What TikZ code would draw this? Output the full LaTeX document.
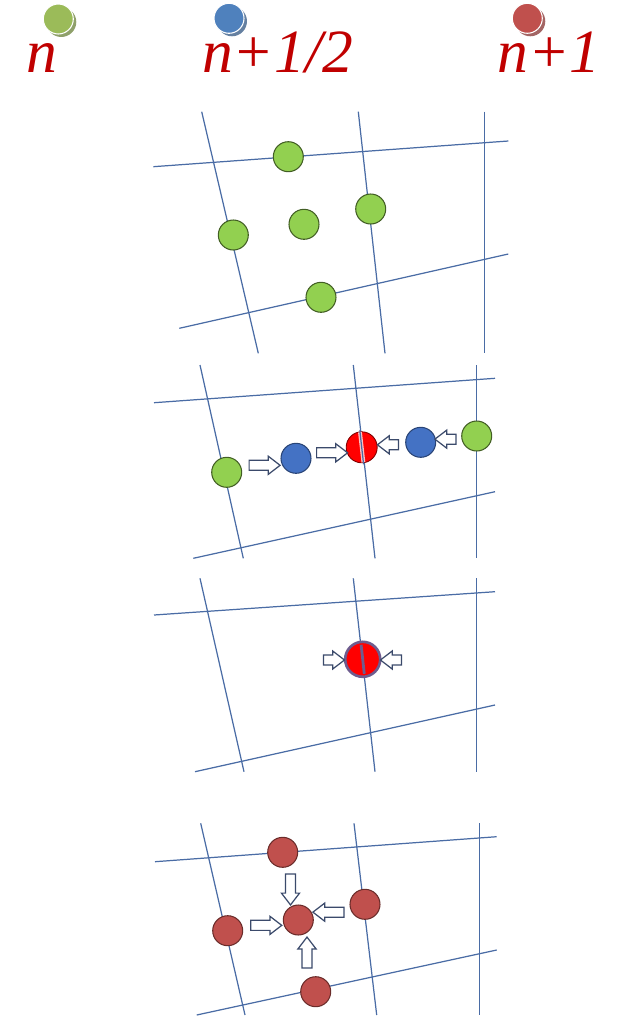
\documentclass[tikz,border=0pt]{standalone}
\usepackage{fontspec}
\newfontfamily\hdrfont{Liberation Serif}
\usetikzlibrary{calc, positioning, shapes.arrows, shadows}

\begin{document}
\begin{tikzpicture}[x=0.02cm, y=-0.02cm]
\definecolor{gline}{RGB}{74,108,165}
\definecolor{hgreen}{RGB}{155,187,89}
\definecolor{hblue}{RGB}{79,129,189}
\definecolor{hred}{RGB}{192,80,77}
\definecolor{lbl}{RGB}{192,0,0}
\definecolor{cgreen}{RGB}{146,208,80}
\definecolor{cblue}{RGB}{68,114,196}
\definecolor{arrline}{RGB}{59,74,107}
\definecolor{mrgline}{RGB}{110,92,142}
\tikzset{
  grid/.style={gline, line width=0.7pt},
  hdrdot/.style={circle, minimum size=0.6cm, inner sep=0pt, fill=#1, draw=white, line width=0.6pt,
    drop shadow={shadow xshift=1.7pt, shadow yshift=-1.7pt, fill=#1!55!gray, opacity=1}},
  hdrlbl/.style={lbl, inner sep=0pt, anchor=base, font=\hdrfont\itshape\fontsize{35}{40}\selectfont},
  dotn/.style={circle, minimum size=0.6cm, inner sep=0pt, fill=cgreen, draw=cgreen!45!black, line width=0.6pt},
  dothalf/.style={circle, minimum size=0.6cm, inner sep=0pt, fill=cblue, draw=cblue!60!black, line width=0.6pt},
  dotnew/.style={circle, minimum size=0.6cm, inner sep=0pt, fill=hred, draw=hred!55!black, line width=0.6pt},
  dotmid/.style={circle, minimum size=0.62cm, inner sep=0pt, fill=red, draw=red!50!black, line width=0.5pt},
  dotmerge/.style={circle, minimum size=0.7cm, inner sep=0pt, fill=red, draw=mrgline, line width=1.5pt},
  blockarr/.style={single arrow, draw=arrline, fill=white, line width=0.7pt, inner sep=2.5pt,
    single arrow head extend=2.3pt, single arrow tip angle=75, minimum height=0.62cm},
  shortarr/.style={blockarr, minimum height=0.42cm}
}
\useasboundingbox (0,0) rectangle (621,1018);

% header
\node[hdrdot=hgreen] (hn) at (58.3,19) {};
\node[hdrdot=hblue] (hh) at (229,18.3) {};
\node[hdrdot=hred] (h1) at (527.3,18.3) {};
\node[hdrlbl] (ln) at (41.5,72.7) {n};
\node[hdrlbl] (lh) at (277.5,72.7) {n+1/2};
\node[hdrlbl] (l1) at (549,72.7) {n+1};

% panel 1
\draw[grid] (201.7,111.7) -- (258.3,353.3);
\draw[grid] (358.3,111.7) -- (385,353.3);
\draw[grid] (484.3,111.7) -- (484.3,353.3);
\draw[grid] (153.3,166.7) -- (508.3,141);
\draw[grid] (179.3,328.3) -- (508.3,254);
\node[dotn] (pa1) at (288.3,156.7) {};
\node[dotn] (pa2) at (233.3,235) {};
\node[dotn] (pa3) at (304,224.3) {};
\node[dotn] (pa4) at (370.7,209) {};
\node[dotn] (pa5) at (321,297.3) {};

% panel 2
\draw[grid] (200,365) -- (243.3,558.3);
\draw[grid] (353.3,365) -- (375,558.3);
\draw[grid] (476.7,365) -- (476.7,558.3);
\draw[grid] (154,402.7) -- (495,378.3);
\draw[grid] (193.3,558.3) -- (495,491.7);
\node[dotn] (pb1) at (226.7,472.3) {};
\node[dothalf] (pb2) at (296,458.3) {};
\node[dotmid] (pb3) at (361.7,447.3) {};
\node[dothalf] (pb4) at (420.7,442.3) {};
\node[dotn] (pb5) at (476.7,436) {};
\draw[white!75!red, line width=2.2pt] ($(pb3.center)+(-1.7,-15)$) -- ($(pb3.center)+(1.7,15)$);
\draw[grid] ($(pb3.center)+(-1.9,-17)$) -- ($(pb3.center)+(1.9,17)$);
\node[blockarr] (ab1) at ($(pb1)!0.5!(pb2)$) {};
\node[blockarr] (ab2) at ($(pb2)!0.5!(pb3)$) {};
\node[shortarr, rotate=180] (ab3) at ($(pb3)!0.5!(pb4)$) {};
\node[shortarr, rotate=180] (ab4) at ($(pb4)!0.5!(pb5)$) {};

% panel 3
\draw[grid] (200,578.3) -- (244,771.7);
\draw[grid] (353.3,578.3) -- (375,771.7);
\draw[grid] (476.5,578.3) -- (476.5,771.7);
\draw[grid] (154,615) -- (495,591.7);
\draw[grid] (195,771.7) -- (495,705);
\node[dotmerge] (pc1) at (362.7,659.3) {};
\draw[mrgline, line width=1.6pt] ($(pc1.center)+(-1.6,-14.5)$) -- ($(pc1.center)+(1.6,14.5)$);
\node[shortarr] (ac1) at ($(pc1)+(-32,0.7)$) {};
\node[shortarr, rotate=180] (ac2) at ($(pc1)+(31.5,0.7)$) {};

% panel 4
\draw[grid] (200.7,823.3) -- (245,1015);
\draw[grid] (354,823.3) -- (376.7,1015);
\draw[grid] (479.5,823.3) -- (479.5,1015);
\draw[grid] (155,861.7) -- (496.7,836.7);
\draw[grid] (196.7,1015) -- (496.7,950);
\node[dotnew] (pd1) at (282.7,852.3) {};
\node[dotnew] (pd2) at (227.7,930.7) {};
\node[dotnew] (pd3) at (298.3,920) {};
\node[dotnew] (pd4) at (365,904.3) {};
\node[dotnew] (pd5) at (315.7,991.7) {};
\node[blockarr, rotate=-90] (ad1) at ($(pd1)!0.5!(pd3)$) {};
\node[blockarr] (ad2) at ($(pd2)!0.5!(pd3)$) {};
\node[blockarr, rotate=180] (ad3) at ($(pd4)!0.5!(pd3)$) {};
\node[blockarr, rotate=90] (ad4) at ($(pd5)!0.5!(pd3)$) {};
\end{tikzpicture}
\end{document}
